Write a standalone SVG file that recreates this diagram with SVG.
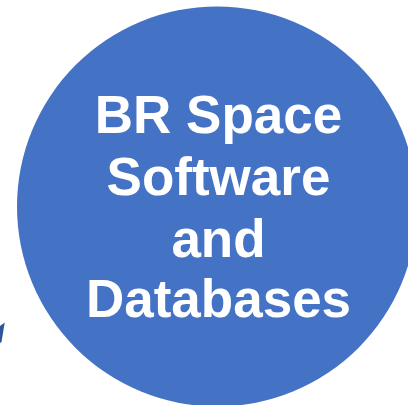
<svg xmlns="http://www.w3.org/2000/svg" width="408" height="405" viewBox="0 0 408 405">
  <style>
    .node-fill { fill: #4472C4; }
    .label { fill: #FFFFFF; font-family: "Liberation Sans", Arial, sans-serif; font-weight: bold; font-size: 53px; text-anchor: middle; }
    .conn { fill: #2F5597; }
  </style>
  <rect width="408" height="405" fill="#FFFFFF"/>
  <g id="connectors">
    <polygon class="conn" points="0,326 4.7,322.5 1.5,342 0,343"/>
  </g>
  <g id="node-br-space">
    <circle class="node-fill" cx="217" cy="206.5" r="200"/>
    <text class="label" x="218.5" y="133">BR Space</text>
    <text class="label" x="218.5" y="194.5">Software</text>
    <text class="label" x="218.5" y="256.5">and</text>
    <text class="label" x="218.5" y="317">Databases</text>
  </g>
</svg>
